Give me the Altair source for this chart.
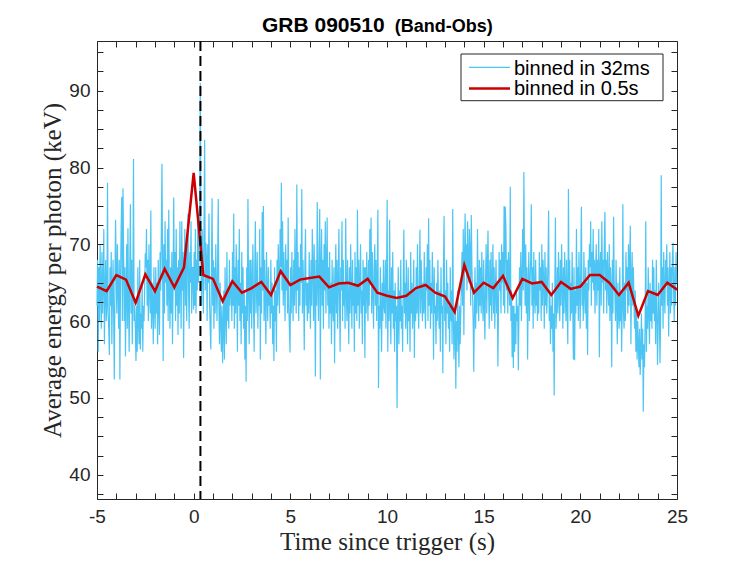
import altair as alt
import pandas as pd

CYAN = "#4CC5F4"
RED = "#CC0000"
AXC = "#262626"

T_START = -5.0
BIN_32MS = 0.032
T_TRIGGER_LINE = 0.35

# average energy per photon, 32 ms bins
e32 = [
    62, 68, 56, 67, 60, 70, 64, 59, 69, 61, 65, 72, 57, 64, 68, 60, 62, 78, 61, 59, 55.6, 67, 62, 69, 57, 64, 68, 60, 52.4, 65, 73.2,
    67, 61, 70, 64, 59, 68, 52.4, 65, 72, 76.2, 60, 77.3, 69, 60, 67, 55.4, 64, 70, 59, 72.1, 62, 56, 67, 75.2, 61, 68, 57, 64, 81.1, 60, 62,
    59, 54.8, 62, 56, 67, 60, 57, 68, 56.3, 61, 59, 65, 56, 62, 60, 64, 68.8, 67, 72, 62, 68, 60, 70, 64, 61, 74.4, 59, 65, 62, 57, 67,
    62, 59, 67, 61, 65, 57, 68, 62, 58.2, 69, 64, 72, 80.5, 67, 54.8, 70, 61, 73, 65, 68, 62, 72, 60, 74.5, 64, 59, 67, 61, 69, 57, 65,
    76.1, 64, 69, 60, 72, 62, 67, 58.2, 68, 61, 73, 65, 59, 73, 64, 69, 55.2, 67, 72, 62, 70, 60, 68, 74, 64, 59, 69, 65, 73, 61, 67,
    67, 61.5, 69, 62, 72, 61, 68, 64, 74, 65, 70, 74, 91, 69, 62, 72, 67, 61, 73, 83.6, 64, 70.2, 68, 60, 70, 65, 74, 62, 59, 56.3, 67,
    76, 62, 68, 59, 67, 61, 70, 64, 60, 68, 75.9, 62, 57, 65, 60, 56, 62, 54.5, 59, 64, 55, 67, 61, 57, 69, 60, 64, 59, 68, 62, 65,
    65, 60, 69, 62, 74, 59, 67, 61, 70, 64, 56, 68, 62, 72, 60, 65, 57, 69, 61, 67, 59, 64, 55, 62, 52.1, 67, 60, 75.9, 64, 57, 68,
    61, 68, 59, 65, 70, 62, 56, 67, 73, 61, 64, 69, 59, 65, 62, 72, 55, 67, 61, 74.2, 64, 75, 60, 68, 62, 57, 69, 64, 60, 67, 62,
    64, 59, 68, 61, 65, 57, 62, 54.8, 67, 60, 64, 56, 68, 62, 70, 65, 61, 72, 67, 78, 64, 73, 62, 69, 65, 60, 70, 64, 68, 61, 73.5,
    62, 59, 55.9, 67, 61, 69, 64, 60, 68, 62, 72, 65, 61, 77.8, 64, 69, 60, 67, 62, 70, 65, 77.2, 61, 68, 64, 56.2, 67, 72, 62, 65, 60,
    65, 61, 69, 64, 59, 68, 62, 72, 67, 60, 70, 64, 52.8, 68, 62, 75.5, 65, 60, 69, 74.6, 52.4, 67, 72, 62, 68, 59, 70, 64, 73, 61, 67,
    73.5, 62, 67, 59, 69, 61, 65, 57, 68, 62, 60, 67, 54.5, 64, 70, 61, 68, 59, 65, 72, 62, 56, 67, 64, 73, 60, 68, 62, 65, 59, 73.4,
    64, 60, 68, 62, 57, 67, 61, 70, 64, 59, 68, 62, 65, 56, 69, 61, 67, 60, 74.5, 62, 68, 59, 65, 70, 61, 64, 57, 68, 62, 67, 55.2,
    67, 61, 69, 64, 60, 68, 62, 72, 65, 73.5, 61, 69, 64, 59, 67, 70, 62, 68, 60, 65, 74.5, 51.3, 62, 59, 67, 61, 56, 65, 60, 68, 62,
    61, 68, 59, 65, 75.8, 56, 64, 60, 73.2, 62, 57, 67, 61, 69, 59, 64, 56, 65, 60, 62, 48.7, 61, 67, 57, 64, 60, 68, 59, 62, 56, 65,
    71.9, 61, 65, 59, 68, 62, 57, 67, 60, 64, 56, 69, 61, 65, 59, 62, 68, 55.2, 64, 60, 67, 61, 70, 62, 59, 65, 71.9, 61, 68, 64, 60,
    65, 61, 69, 62, 59, 67, 64, 70, 60, 73.4, 62, 68, 59, 65, 61, 69, 64, 55, 67, 61, 62, 57, 65, 60, 68, 62, 59, 64, 56, 67, 61,
    62, 53.2, 67, 73.7, 60, 64, 57, 68, 61, 65, 59, 62, 56, 67, 60, 64, 57, 74.6, 61, 55, 59, 62, 51.2, 60, 56, 64, 59, 54, 62, 57, 61,
    65, 69, 62, 72, 58.2, 68, 74, 67, 70, 64, 73, 68, 65, 72, 69, 62, 73.8, 67, 64, 60, 53.4, 62, 67, 59, 65, 61, 72, 64, 60, 68, 62,
    67, 61, 69, 64, 60, 68, 62, 57.6, 65, 70, 61, 67, 71.8, 64, 59, 68, 62, 69, 60, 65, 70, 61, 67, 59, 64, 68, 61, 65, 54.1, 62, 69,
    64, 68, 61, 70, 65, 69, 62, 75, 61, 74.9, 72, 64, 68, 61, 69, 65, 62, 77.5, 60, 64, 55.3, 62, 53.9, 62, 56, 61, 57, 64, 60, 62, 53.6,
    61, 67, 62, 69, 60, 65, 72, 64, 79.4, 68, 62, 70, 61, 67, 55, 64, 69, 60, 65, 68, 75.2, 62, 67, 59, 69, 64, 61, 68, 62, 65, 60,
    65, 61, 69, 64, 67, 60, 70, 62, 68, 65, 59, 69, 62, 67, 61, 64, 68, 74.4, 60, 64, 57, 62, 59, 65, 56, 61, 50.3, 64, 73.5, 59, 62,
    67, 61, 69, 64, 60, 68, 62, 70, 65, 59, 67, 61, 69, 64, 60, 68, 62, 57, 77.2, 64, 68, 60, 65, 61, 69, 62, 55, 67, 54.9, 64, 61,
    72, 62, 67, 60, 69, 64, 59, 68, 74.9, 62, 65, 60, 69, 64, 61, 67, 59, 65, 55.6, 68, 64, 70, 67, 73, 62, 69, 65, 72, 64, 68, 61,
    67, 70, 62, 68, 64, 72, 55.3, 67, 69, 62, 73, 65, 68, 61, 70, 74.2, 64, 68, 61, 69, 65, 62, 70, 60, 67, 64, 54, 68, 61, 73.6, 65,
    64, 60, 68, 62, 57, 65, 61, 59, 67, 60, 64, 56, 62, 75.2, 61, 59, 65, 60, 69, 64, 67, 61, 70, 62, 68, 72.4, 57, 65, 69, 62, 67,
    62, 59, 64, 56, 61, 55, 60, 57, 54, 59, 53, 56, 61, 55, 59, 48.2, 57, 54, 60, 73, 56, 62, 59, 67, 61, 57, 65, 60, 64, 59, 68,
    61, 67, 60, 64, 57, 68, 62, 54.3, 59, 65, 61, 54.5, 60, 79, 62, 67, 59, 69, 64, 61, 68, 65, 70, 62, 67, 58, 64, 69, 61, 67, 62,
    68, 70.2, 64, 60, 67, 62, 69, 65,
]
t32 = [round(T_START + BIN_32MS * i, 3) for i in range(len(e32))]

# average energy per photon, 0.5 s bins
t05 = [T_START + 0.5 * k for k in range(61)]
e05 = [
    64.5, 63.9, 66.0, 65.4, 62.4, 66.1, 63.9, 66.8, 64.4, 67.0,
    79.3, 66.0, 65.5, 62.6, 65.2, 63.7, 64.3, 65.1, 63.4, 66.5,
    64.7, 65.4, 65.6, 65.8, 64.4, 64.9, 65.0, 64.6, 65.5, 63.7,
    63.3, 63.0, 63.3, 64.3, 64.7, 63.7, 63.2, 61.2, 67.3, 63.7,
    65.0, 64.3, 65.9, 63.0, 65.5, 64.9, 65.1, 63.4, 65.1, 64.2,
    64.5, 66.0, 66.0, 65.0, 63.4, 65.0, 60.7, 63.9, 63.4, 65.0,
    64.1,
]

legend_labels = ["binned in 32ms", "binned in 0.5s"]
title_main = "GRB 090510"
title_sub = "(Band-Obs)"

x_ticks = list(range(-5, 26))
y_ticks = [37.5 + 2.5 * k for k in range(24)]

W, H = 580, 458
xs = alt.Scale(domain=[-5, 25], nice=False, zero=False)
ys = alt.Scale(domain=[36.84, 96.47], nice=False, zero=False)

df32 = pd.DataFrame({"t": t32, "e": e32})
df05 = pd.DataFrame({"t": t05, "e": e05})

tick_style = dict(domain=False, grid=False, ticks=True, tickSize=6, tickColor=AXC,
                  tickWidth=1, offset=-6, zindex=1)
label_style = dict(labelFont="Liberation Sans", labelFontSize=19, labelColor=AXC,
                   labelOverlap=False, labelFlush=False)
title_style = dict(titleFont="Liberation Serif", titleFontWeight="normal",
                   titleColor=AXC, titleAlign="center", titleBaseline="alphabetic")

x_axis_main = alt.Axis(orient="bottom", values=x_ticks,
                       labelExpr="datum.value % 5 == 0 ? '' + datum.value : ''",
                       labelPadding=8, title="Time since trigger (s)", titleFontSize=25,
                       titleX=W / 2, titleY=56, **label_style, **title_style, **tick_style)
y_axis_main = alt.Axis(orient="left", values=y_ticks,
                       labelExpr="datum.value % 10 == 0 ? '' + datum.value : ''",
                       labelPadding=7, title="Average energy per photon (keV)", titleFontSize=25,
                       titleX=-43, titleY=H / 2, titleAngle=270,
                       **label_style, **title_style, **tick_style)
x_axis_top = alt.Axis(orient="top", values=x_ticks, labels=False, title=None, **tick_style)
y_axis_right = alt.Axis(orient="right", values=y_ticks, labels=False, title=None, **tick_style)

cyan = alt.Chart(df32).mark_line(color=CYAN, strokeWidth=1.2).encode(
    x=alt.X("t:Q", scale=xs, axis=x_axis_main),
    y=alt.Y("e:Q", scale=ys, axis=y_axis_main),
)
red = alt.Chart(df05).mark_line(color=RED, strokeWidth=2.5).encode(
    x=alt.X("t:Q", scale=xs, axis=x_axis_top),
    y=alt.Y("e:Q", scale=ys, axis=y_axis_right),
)
trigger = alt.Chart(pd.DataFrame({"t": [T_TRIGGER_LINE]})).mark_rule(
    color="black", strokeWidth=2, strokeDash=[10, 5]
).encode(x=alt.X("t:Q", scale=xs, axis=None))

one = pd.DataFrame({"k": [0]})
legend_box = alt.Chart(one).mark_rect(fill="white", stroke=AXC, strokeWidth=1).encode(
    x=alt.value(364), x2=alt.value(566), y=alt.value(13), y2=alt.value(59.7)
)
leg_line1 = alt.Chart(one).mark_rule(color=CYAN, strokeWidth=1.2).encode(
    x=alt.value(372), x2=alt.value(413), y=alt.value(26.3)
)
leg_line2 = alt.Chart(one).mark_rule(color=RED, strokeWidth=2.5).encode(
    x=alt.value(372), x2=alt.value(413), y=alt.value(47.5)
)
leg_text_style = dict(align="left", baseline="alphabetic", font="Liberation Sans",
                      fontSize=20, color="black")
leg_text1 = alt.Chart(one).mark_text(**leg_text_style).encode(
    x=alt.value(417), y=alt.value(33.5), text=alt.value(legend_labels[0])
)
leg_text2 = alt.Chart(one).mark_text(**leg_text_style).encode(
    x=alt.value(417), y=alt.value(54.0), text=alt.value(legend_labels[1])
)
title1 = alt.Chart(one).mark_text(align="left", baseline="alphabetic", font="Liberation Sans",
                                  fontWeight="bold", fontSize=21, color="black").encode(
    x=alt.value(165), y=alt.value(-9.5), text=alt.value(title_main)
)
title2 = alt.Chart(one).mark_text(align="left", baseline="alphabetic", font="Liberation Sans",
                                  fontWeight="bold", fontSize=18, color="black").encode(
    x=alt.value(297.7), y=alt.value(-9.5), text=alt.value(title_sub)
)

chart = alt.layer(
    cyan, red, trigger, legend_box, leg_line1, leg_line2, leg_text1, leg_text2, title1, title2
).resolve_axis(x="independent", y="independent").properties(
    width=W, height=H,
    padding={"left": 89, "top": 33, "right": 50, "bottom": 56},
    autosize=alt.AutoSizeParams(type="none"),
).configure_view(stroke=AXC, strokeWidth=1)

chart.save("out.html", embed_options={"renderer": "svg", "actions": False})
